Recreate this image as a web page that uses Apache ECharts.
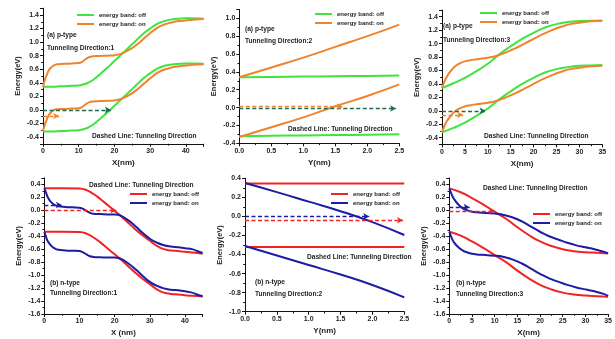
<!DOCTYPE html>
<html><head><meta charset="utf-8">
<script src="https://cdn.jsdelivr.net/npm/echarts@6/dist/echarts.min.js"></script>
<style>html,body{margin:0;padding:0;background:#fff}#chart{width:615px;height:339px}</style>
</head><body><div id="chart"></div>
<script>
// ---- Panel 1: p-type, tunneling direction 1 (X, nm) ----
const p1OffX = [0,2,4,6,8,10,11,12,13,14,16,18,20,22,24,26,28,30,32,34,36,38,40,42,45];
const p1OffUp = [0.34,0.34,0.345,0.35,0.355,0.36,0.37,0.385,0.41,0.44,0.53,0.62,0.72,0.82,0.92,1.02,1.12,1.20,1.27,1.31,1.335,1.345,1.35,1.35,1.345];
const p1OffLo = [-0.32,-0.32,-0.315,-0.31,-0.305,-0.30,-0.29,-0.275,-0.25,-0.22,-0.13,-0.04,0.06,0.16,0.26,0.36,0.46,0.54,0.61,0.65,0.67,0.68,0.685,0.685,0.68];
const p1OnX = [0,0.5,1,1.5,2,3,4,6,8,10,11,12,13,14,16,18,20,21,22,24,26,28,30,32,34,36,38,40,42,45];
const p1OnUp = [0.34,0.44,0.51,0.57,0.61,0.655,0.675,0.68,0.685,0.69,0.71,0.75,0.78,0.79,0.795,0.80,0.805,0.815,0.83,0.88,0.95,1.04,1.13,1.21,1.26,1.29,1.31,1.32,1.33,1.34];
const p1OnLo = [-0.32,-0.22,-0.15,-0.09,-0.05,-0.005,0.01,0.015,0.02,0.025,0.045,0.085,0.115,0.125,0.13,0.135,0.14,0.15,0.165,0.215,0.285,0.375,0.465,0.545,0.595,0.625,0.645,0.655,0.665,0.675];
const p1DashOff = [[0,0],[19,0]];
const p1DashOn = [[0,-0.09],[4.5,-0.09]];

// ---- Panel 2: p-type, tunneling direction 2 (Y, nm) ----
const p2X = [0,0.5,1,1.5,2,2.5];
const p2OffUp = [0.34,0.343,0.347,0.351,0.355,0.36];
const p2OffLo = [-0.32,-0.316,-0.312,-0.308,-0.304,-0.30];
const p2OnUp = [0.34,0.45,0.56,0.68,0.80,0.93];
const p2OnLo = [-0.33,-0.22,-0.11,0.015,0.13,0.26];
const p2DashOff = [[0,-0.01],[2.45,-0.01]];
const p2DashOn = [[0,0.01],[1.62,0.01]];

// ---- Panel 3: p-type, tunneling direction 3 (X, nm) ----
const p3OffX = [0,2.5,5,7.5,10,12.5,15,17.5,20,22.5,25,27.5,30,32.5,35];
const p3OffUp = [0.34,0.41,0.49,0.59,0.70,0.84,0.96,1.07,1.16,1.24,1.29,1.32,1.335,1.34,1.34];
const p3OffLo = [-0.32,-0.255,-0.175,-0.075,0.035,0.17,0.29,0.40,0.49,0.57,0.62,0.65,0.67,0.675,0.68];
const p3OnX = [0,0.5,1,2,3,4,5,6,8,10,12,14,16,18,20,22,24,26,28,30,32,35];
const p3OnUp = [0.34,0.43,0.5,0.6,0.67,0.71,0.735,0.75,0.77,0.79,0.82,0.87,0.93,1.0,1.07,1.14,1.2,1.25,1.29,1.31,1.33,1.34];
const p3OnLo = [-0.32,-0.23,-0.16,-0.07,0.0,0.04,0.065,0.08,0.1,0.12,0.15,0.2,0.26,0.33,0.40,0.47,0.53,0.58,0.62,0.64,0.66,0.67];
const p3DashOff = [[0,0],[9.5,0]];
const p3DashOn = [[0,-0.06],[4.6,-0.06]];

// ---- Panel 4: n-type, tunneling direction 1 (X, nm) ----
const n1OffX = [0,5,10,12,14,16,18,20,22,24,26,28,30,32,34,36,38,40,42,45];
const n1OffUp = [0.34,0.34,0.335,0.31,0.25,0.17,0.08,-0.01,-0.1,-0.2,-0.3,-0.39,-0.47,-0.55,-0.6,-0.62,-0.63,-0.64,-0.65,-0.67];
const n1OffLo = [-0.33,-0.33,-0.335,-0.36,-0.42,-0.5,-0.59,-0.68,-0.77,-0.87,-0.97,-1.06,-1.14,-1.22,-1.27,-1.29,-1.30,-1.31,-1.32,-1.33];
const n1OnX = [0,0.5,1,2,3,4,6,8,10,11,12,13,14,16,18,20,21,22,24,26,28,30,32,34,36,38,40,42,44,45];
const n1OnUp = [0.34,0.27,0.2,0.12,0.08,0.06,0.05,0.045,0.04,0.02,-0.01,-0.04,-0.055,-0.06,-0.065,-0.065,-0.07,-0.09,-0.16,-0.25,-0.35,-0.44,-0.5,-0.54,-0.56,-0.57,-0.585,-0.6,-0.64,-0.66];
const n1OnLo = [-0.33,-0.41,-0.48,-0.55,-0.59,-0.61,-0.62,-0.625,-0.63,-0.65,-0.68,-0.71,-0.72,-0.725,-0.73,-0.73,-0.735,-0.755,-0.825,-0.915,-1.015,-1.105,-1.165,-1.205,-1.225,-1.235,-1.25,-1.27,-1.31,-1.325];
const n1DashOff = [[0,0],[20.5,0]];
const n1DashOn = [[0,0.08],[5,0.08]];

// ---- Panel 5: n-type, tunneling direction 2 (Y, nm) ----
const n2X = [0,0.5,1,1.5,2,2.5];
const n2OffUp = [0.345,0.345,0.345,0.345,0.345,0.345];
const n2OffLo = [-0.32,-0.32,-0.32,-0.32,-0.32,-0.32];
const n2OnUp = [0.35,0.255,0.155,0.055,-0.06,-0.195];
const n2OnLo = [-0.31,-0.41,-0.51,-0.61,-0.72,-0.85];
const n2DashOff = [[0,-0.04],[2.48,-0.04]];
const n2DashOn = [[0,0.0],[1.95,0.0]];

// ---- Panel 6: n-type, tunneling direction 3 (X, nm) ----
const n3OffX = [0,2.5,5,7.5,10,12.5,15,17.5,20,22.5,25,27.5,30,32.5,35];
const n3OffUp = [0.34,0.28,0.19,0.09,-0.02,-0.13,-0.26,-0.38,-0.48,-0.55,-0.6,-0.63,-0.645,-0.655,-0.665];
const n3OffLo = [-0.33,-0.39,-0.48,-0.58,-0.69,-0.8,-0.93,-1.05,-1.15,-1.22,-1.27,-1.3,-1.315,-1.325,-1.335];
const n3OnX = [0,0.5,1,2,3,4,5,6,8,10,11,12,14,16,18,20,22,24,26,28,30,32,34,35];
const n3OnUp = [0.34,0.25,0.18,0.09,0.03,0.0,-0.02,-0.03,-0.04,-0.05,-0.055,-0.07,-0.11,-0.17,-0.25,-0.33,-0.40,-0.45,-0.50,-0.54,-0.57,-0.6,-0.64,-0.66];
const n3OnLo = [-0.33,-0.42,-0.49,-0.57,-0.62,-0.65,-0.67,-0.68,-0.69,-0.7,-0.705,-0.72,-0.76,-0.82,-0.9,-0.98,-1.05,-1.1,-1.15,-1.19,-1.22,-1.25,-1.29,-1.32];
const n3DashOff = [[0,-0.01],[10,-0.01]];
const n3DashOn = [[0,0.05],[4.5,0.05]];

const OFF = 'energy band: off';
const ON = 'energy band: on';
const GREEN = '#3fe43f', ORANGE = '#f0842c', RED = '#f02424', BLUE = '#1c1ca4';
const TEAL = '#1d6b4c';
const FONT = '"Liberation Sans", Arial, sans-serif';
const INK = '#1e1e1e';

const grids = [
  {left: 43, top: 8.2, width: 160.7, height: 135.6},
  {left: 239.3, top: 9.4, width: 160, height: 133.9},
  {left: 442, top: 10, width: 160.3, height: 134.4},
  {left: 44.3, top: 177.8, width: 158.3, height: 136.2},
  {left: 245, top: 178.3, width: 159.3, height: 133.4},
  {left: 449.3, top: 178, width: 160, height: 136}
];
const xSpec = [
  {min: 0, max: 45, step: 10, name: 'X(nm)', dec: 0},
  {min: 0, max: 2.5, step: 0.5, name: 'Y(nm)', dec: 1},
  {min: 0, max: 35, step: 5, name: 'X(nm)', dec: 0},
  {min: 0, max: 45, step: 10, name: 'X (nm)', dec: 0},
  {min: 0, max: 2.5, step: 0.5, name: 'Y(nm)', dec: 1},
  {min: 0, max: 35, step: 5, name: 'X(nm)', dec: 0}
];
const ySpec = [
  {min: -0.5, max: 1.5}, {min: -0.4, max: 1.1}, {min: -0.5, max: 1.5},
  {min: -1.6, max: 0.5}, {min: -1.0, max: 0.4}, {min: -1.6, max: 0.5}
];

function axisBase() {
  return {
    axisLine: {onZero: false, lineStyle: {color: '#111', width: 1}},
    axisTick: {length: 3, lineStyle: {color: '#111'}},
    minorTick: {show: true, splitNumber: 2, length: 1.8, lineStyle: {color: '#111'}},
    splitLine: {show: false}
  };
}

const xAxes = xSpec.map((s, i) => Object.assign(axisBase(), {
  type: 'value', gridIndex: i, min: s.min, max: s.max,
  minInterval: s.step, maxInterval: s.step,
  name: s.name, nameLocation: 'middle', nameGap: 15,
  nameTextStyle: {fontFamily: FONT, fontWeight: 'bold', fontSize: 8, color: INK},
  axisLabel: {fontFamily: FONT, fontWeight: 'bold', fontSize: 7, color: INK, margin: 4,
    showMaxLabel: s.max % s.step === 0 ? null : false,
    formatter: v => v.toFixed(s.dec)}
}));
const yAxes = ySpec.map((s, i) => Object.assign(axisBase(), {
  type: 'value', gridIndex: i, min: s.min, max: s.max,
  minInterval: 0.2, maxInterval: 0.2,
  name: 'Energy(eV)', nameLocation: 'middle', nameGap: 21,
  nameTextStyle: {fontFamily: FONT, fontWeight: 'bold', fontSize: 7.5, color: INK},
  axisLabel: {fontFamily: FONT, fontWeight: 'bold', fontSize: 7, color: INK, margin: 4,
    showMinLabel: Math.abs(s.min / 0.2 - Math.round(s.min / 0.2)) < 1e-6 ? null : false,
    showMaxLabel: Math.abs(s.max / 0.2 - Math.round(s.max / 0.2)) < 1e-6 ? null : false,
    formatter: v => v.toFixed(1)}
}));

function pairs(xs, ys) { return xs.map((x, k) => [x, ys[k]]); }
function band(name, color, g, xs, ys, dash, dashColor) {
  const s = {
    type: 'line', name: name, xAxisIndex: g, yAxisIndex: g,
    data: pairs(xs, ys), showSymbol: false, symbol: 'none',
    smooth: 0.5, clip: true,
    lineStyle: {color: color, width: 2}, itemStyle: {color: color},
    silent: true, z: 3
  };
  if (dash) {
    s.markLine = {
      silent: true, symbol: ['none', 'arrow'], symbolSize: [5, 6],
      label: {show: false}, animation: false,
      lineStyle: {color: dashColor, type: [4, 2.5], width: 1.3},
      itemStyle: {color: dashColor},
      data: [[{coord: dash[0]}, {coord: dash[1]}]]
    };
  }
  return s;
}

const series = [
  band(OFF, GREEN, 0, p1OffX, p1OffUp), band(OFF, GREEN, 0, p1OffX, p1OffLo, p1DashOff, TEAL),
  band(ON, ORANGE, 0, p1OnX, p1OnUp), band(ON, ORANGE, 0, p1OnX, p1OnLo, p1DashOn, ORANGE),
  band(OFF, GREEN, 1, p2X, p2OffUp), band(OFF, GREEN, 1, p2X, p2OffLo, p2DashOff, TEAL),
  band(ON, ORANGE, 1, p2X, p2OnUp), band(ON, ORANGE, 1, p2X, p2OnLo, p2DashOn, ORANGE),
  band(OFF, GREEN, 2, p3OffX, p3OffUp), band(OFF, GREEN, 2, p3OffX, p3OffLo, p3DashOff, TEAL),
  band(ON, ORANGE, 2, p3OnX, p3OnUp), band(ON, ORANGE, 2, p3OnX, p3OnLo, p3DashOn, ORANGE),
  band(OFF, RED, 3, n1OffX, n1OffUp, n1DashOff, RED), band(OFF, RED, 3, n1OffX, n1OffLo),
  band(ON, BLUE, 3, n1OnX, n1OnUp, n1DashOn, BLUE), band(ON, BLUE, 3, n1OnX, n1OnLo),
  band(OFF, RED, 4, n2X, n2OffUp, n2DashOff, RED), band(OFF, RED, 4, n2X, n2OffLo),
  band(ON, BLUE, 4, n2X, n2OnUp, n2DashOn, BLUE), band(ON, BLUE, 4, n2X, n2OnLo),
  band(OFF, RED, 5, n3OffX, n3OffUp, n3DashOff, RED), band(OFF, RED, 5, n3OffX, n3OffLo),
  band(ON, BLUE, 5, n3OnX, n3OnUp, n3DashOn, BLUE), band(ON, BLUE, 5, n3OnX, n3OnLo)
];

function legend(left, top, offColor, onColor) {
  return {
    left: left, top: top, orient: 'vertical', itemGap: 1, padding: 0,
    icon: 'rect', itemWidth: 17, itemHeight: 2, selectedMode: false,
    textStyle: {fontFamily: FONT, fontWeight: 'bold', fontSize: 6, color: INK, lineHeight: 8},
    data: [
      {name: OFF, itemStyle: {color: offColor}},
      {name: ON, itemStyle: {color: onColor}}
    ]
  };
}
const legends = [
  legend(77, 11, GREEN, ORANGE),
  legend(315, 10, GREEN, ORANGE),
  legend(480, 9, GREEN, ORANGE),
  legend(130, 190, RED, BLUE),
  legend(331, 190, RED, BLUE),
  legend(533, 210, RED, BLUE)
];

function note(x, y, s) {
  return {type: 'text', x: x, y: y, silent: true, z: 10,
    style: {text: s, fill: INK, font: 'bold 6.6px ' + FONT, verticalAlign: 'middle'}};
}
const notes = [
  note(47, 35, '(a) p-type'), note(47, 48, 'Tunneling Direction:1'), note(92, 136, 'Dashed Line: Tunneling Direction'),
  note(245, 29, '(a) p-type'), note(245, 41, 'Tunneling Direction:2'), note(288, 129, 'Dashed Line: Tunneling Direction'),
  note(443, 26, '(a) p-type'), note(443, 40, 'Tunneling Direction:3'), note(484, 136, 'Dashed Line: Tunneling Direction'),
  note(89, 185, 'Dashed Line: Tunneling Direction'), note(50, 283, '(b) n-type'), note(50, 293, 'Tunneling Direction:1'),
  note(307, 257, 'Dashed Line: Tunneling Direction'), note(255, 282, '(b) n-type'), note(255, 294, 'Tunneling Direction:2'),
  note(483, 188, 'Dashed Line: Tunneling Direction'), note(456, 283, '(b) n-type'), note(456, 294, 'Tunneling Direction:3')
];

const chart = echarts.init(document.getElementById('chart'), null, {renderer: 'canvas'});
chart.setOption({
  animation: false,
  backgroundColor: '#ffffff',
  grid: grids,
  xAxis: xAxes,
  yAxis: yAxes,
  legend: legends,
  series: series,
  graphic: notes
});
</script></body></html>
